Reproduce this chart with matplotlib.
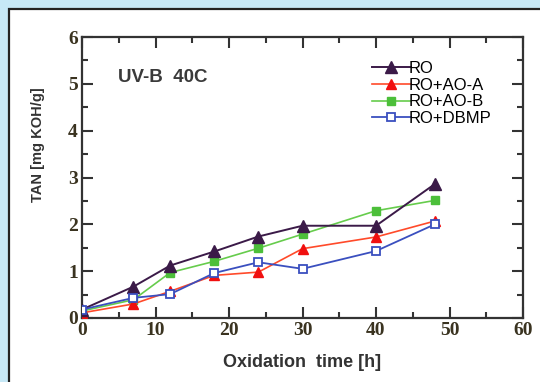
import matplotlib.pyplot as plt
from matplotlib.patches import Rectangle
from matplotlib.ticker import MultipleLocator

# data
time_h = [0, 7, 12, 18, 24, 30, 40, 48]
tan_ro = [0.18, 0.67, 1.12, 1.42, 1.74, 1.97, 1.97, 2.86]
tan_ao_a = [0.11, 0.30, 0.57, 0.91, 0.98, 1.48, 1.73, 2.07]
tan_ao_b = [0.15, 0.39, 0.97, 1.21, 1.49, 1.79, 2.29, 2.51]
tan_dbmp = [0.18, 0.43, 0.51, 0.96, 1.19, 1.05, 1.43, 2.00]
series_names = ['RO', 'RO+AO-A', 'RO+AO-B', 'RO+DBMP']

fig = plt.figure(figsize=(5.4, 3.82), dpi=100)
fig.patch.set_facecolor('#c6e8f6')

# white panel with dark frame on top/left
panel = Rectangle((8.5 / 540, -0.05), 1.0, 1.05 - 8.5 / 382,
                  transform=fig.transFigure, facecolor='white',
                  edgecolor='#222222', linewidth=1.6, zorder=-10)
fig.patches.append(panel)

ax = fig.add_axes([82 / 540, 64 / 382, 441 / 540, 281 / 382])
ax.set_zorder(5)

ax.plot(time_h, tan_ro, color='#3b1a48', marker='^', markersize=8,
        linewidth=1.4, label=series_names[0], zorder=5)
ax.plot(time_h, tan_ao_a, color='#ff4a2a', marker='^', markersize=7,
        markerfacecolor='#f01010', markeredgecolor='#f01010',
        linewidth=1.2, label=series_names[1], zorder=4)
ax.plot(time_h, tan_ao_b, color='#66cc4c', marker='s', markersize=5.5,
        markerfacecolor='#4cbf3a', markeredgecolor='#4cbf3a',
        linewidth=1.2, label=series_names[2], zorder=3)
ax.plot(time_h, tan_dbmp, color='#3a4fbf', marker='s', markersize=6,
        markerfacecolor='white', markeredgecolor='#3a4fbf',
        markeredgewidth=1.3, linewidth=1.3, label=series_names[3], zorder=6)

ax.set_xlim(0, 60)
ax.set_ylim(0, 6)
ax.xaxis.set_major_locator(MultipleLocator(10))
ax.xaxis.set_minor_locator(MultipleLocator(5))
ax.yaxis.set_major_locator(MultipleLocator(1))
ax.yaxis.set_minor_locator(MultipleLocator(0.5))
ax.tick_params(which='both', direction='in', top=True, right=True,
               color='#333333', width=1.5)
ax.tick_params(which='major', length=8, pad=3)
ax.tick_params(which='minor', length=4)
for lab in ax.get_xticklabels() + ax.get_yticklabels():
    lab.set_fontfamily('Liberation Serif')
    lab.set_fontweight('bold')
    lab.set_fontsize(14)
    lab.set_color('#3a3320')
for sp in ax.spines.values():
    sp.set_linewidth(1.6)
    sp.set_color('#333333')

ax.set_xlabel('Oxidation  time [h]', fontfamily='Liberation Sans',
              fontweight='bold', fontsize=13, color='#333333')
ax.xaxis.set_label_coords(0.5, -0.128)
ax.set_ylabel('TAN [mg KOH/g]', fontfamily='Liberation Sans',
              fontweight='bold', fontsize=10.5, color='#333333')
ax.yaxis.set_label_coords(-0.084, 0.616)

ax.text(0.082, 0.855, 'UV-B  40C', transform=ax.transAxes,
        fontfamily='Liberation Sans', fontweight='bold', fontsize=13.5,
        color='#3a3a3a', va='center')

ax.legend(loc='upper left', bbox_to_anchor=(0.658, 0.914), frameon=False,
          prop={'family': 'Liberation Sans', 'size': 12},
          handlelength=2.3, handletextpad=-0.1, labelspacing=0.1,
          borderaxespad=0, borderpad=0)

fig.savefig('out.png', dpi=100, facecolor=fig.get_facecolor())
